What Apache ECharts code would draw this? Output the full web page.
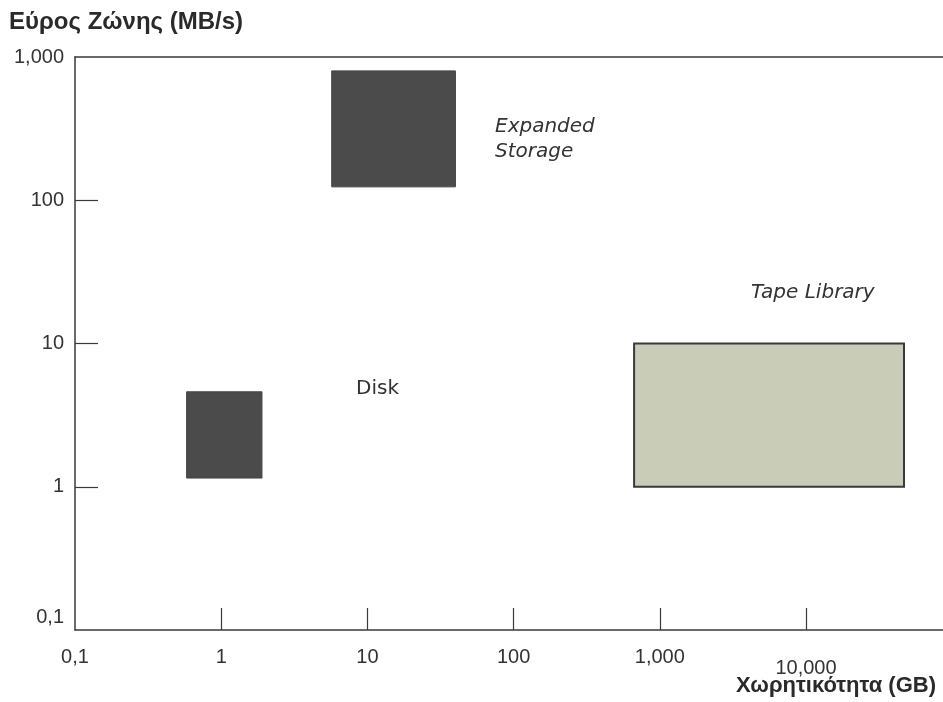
<!DOCTYPE html>
<html>
<head>
<meta charset="utf-8">
<script src="https://cdn.jsdelivr.net/npm/echarts@6/dist/echarts.min.js"></script>
<style>
  html, body { margin: 0; padding: 0; background: #fff; }
  #chart { width: 943px; height: 702px; }
</style>
</head>
<body>
<div id="chart"></div>
<script>
// Storage tiers: capacity (GB) range vs bandwidth (MB/s) range
const tierNames = ['Expanded Storage', 'Disk', 'Tape Library'];
const capacityMin = [5.7, 0.58, 667];
const capacityMax = [40, 1.9, 46800];
const bandwidthMin = [124, 1.15, 1];
const bandwidthMax = [800, 4.6, 10];

// Decade tick labels (log10 exponent -> label)
const xTickExps = [-1, 0, 1, 2, 3, 4];
const xTickLabels = ['0,1', '1', '10', '100', '1,000', '10,000'];
const yTickExps = [-1, 0, 1, 2, 3];
const yTickLabels = ['0,1', '1', '10', '100', '1,000'];

const tierFill = ['#4b4b4b', '#4b4b4b', '#c9ccb7'];
const tierStroke = ['#444444', '#444444', '#3a3a3a'];

const font = 'Liberation Sans, Arial, sans-serif';
const noteFont = 'DejaVu Sans, sans-serif';
const axisColor = '#3a3a3a';
const textColor = '#333333';

const tierData = tierNames.map((name, i) => ({
  name: name,
  value: [
    Math.log10(capacityMin[i]), Math.log10(capacityMax[i]),
    Math.log10(bandwidthMin[i]), Math.log10(bandwidthMax[i]), i
  ]
}));

const chart = echarts.init(document.getElementById('chart'), null, { renderer: 'canvas' });

const xMax = 4.937;

chart.setOption({
  backgroundColor: '#ffffff',
  animation: false,
  grid: { left: 75, right: 0, top: 57, bottom: 72 },
  xAxis: [
    {
      type: 'value', min: -1, max: xMax, interval: 1,
      splitLine: { show: false },
      axisLine: { show: true, onZero: false, lineStyle: { color: axisColor, width: 1.5 } },
      axisTick: {
        show: true, inside: true, length: 22,
        customValues: xTickExps.slice(1),
        lineStyle: { color: axisColor, width: 1.2 }
      },
      axisLabel: {
        show: true, margin: 17,
        customValues: xTickExps,
        fontFamily: font, fontSize: 20, color: textColor,
        formatter: function (v) {
          const idx = xTickExps.indexOf(Math.round(v));
          if (idx < 0 || Math.abs(v - Math.round(v)) > 1e-6) return '';
          if (idx === xTickLabels.length - 1) return '{low|' + xTickLabels[idx] + '}';
          return xTickLabels[idx];
        },
        rich: {
          low: { fontFamily: font, fontSize: 20, color: textColor, padding: [11, 0, 0, 0] }
        }
      }
    },
    {
      type: 'value', min: -1, max: xMax, position: 'top',
      splitLine: { show: false },
      axisLine: { show: true, onZero: false, lineStyle: { color: axisColor, width: 1.5 } },
      axisTick: { show: false },
      axisLabel: { show: false }
    }
  ],
  yAxis: {
    type: 'value', min: -1, max: 3, interval: 1,
    splitLine: { show: false },
    axisLine: { show: true, onZero: false, lineStyle: { color: axisColor, width: 1.5 } },
    axisTick: {
      show: true, inside: true, length: 23,
      customValues: yTickExps.slice(1, -1),
      lineStyle: { color: axisColor, width: 1.2 }
    },
    axisLabel: {
      show: true, margin: 11,
      customValues: yTickExps,
      fontFamily: font, fontSize: 20, color: textColor,
      formatter: function (v) {
        const idx = yTickExps.indexOf(Math.round(v));
        if (idx < 0) return '';
        if (idx === 0) return '{up|' + yTickLabels[idx] + '}';
        return yTickLabels[idx];
      },
      rich: {
        up: { fontFamily: font, fontSize: 20, color: textColor, padding: [0, 0, 26, 0] }
      }
    }
  },
  series: [
    {
      type: 'custom',
      xAxisIndex: 0,
      yAxisIndex: 0,
      data: tierData,
      renderItem: function (params, api) {
        const topLeft = api.coord([api.value(0), api.value(3)]);
        const bottomRight = api.coord([api.value(1), api.value(2)]);
        const i = api.value(4);
        return {
          type: 'rect',
          shape: {
            x: topLeft[0], y: topLeft[1],
            width: bottomRight[0] - topLeft[0],
            height: bottomRight[1] - topLeft[1]
          },
          style: {
            fill: tierFill[i],
            stroke: tierStroke[i],
            lineWidth: i === 2 ? 2 : 1
          }
        };
      }
    }
  ],
  graphic: [
    {
      type: 'text', left: 9, top: 10,
      style: { text: 'Εύρος Ζώνης (MB/s)', fontFamily: font, fontSize: 24, fontWeight: 'bold', fill: '#2a2a2a' }
    },
    {
      type: 'text', right: 7, top: 675,
      style: { text: 'Χωρητικότητα (GB)', fontFamily: font, fontSize: 22, fontWeight: 'bold', fill: '#2a2a2a' }
    },
    {
      type: 'text', left: 495, top: 114,
      style: { text: 'Expanded\nStorage', fontFamily: noteFont, fontSize: 20, fontStyle: 'italic', lineHeight: 25, fill: textColor }
    },
    {
      type: 'text', left: 356, top: 379,
      style: { text: 'Disk', fontFamily: noteFont, fontSize: 20, fill: textColor }
    },
    {
      type: 'text', left: 751, top: 283,
      style: { text: 'Tape Library', fontFamily: noteFont, fontSize: 20, fontStyle: 'italic', fill: textColor }
    }
  ]
});
</script>
</body>
</html>
